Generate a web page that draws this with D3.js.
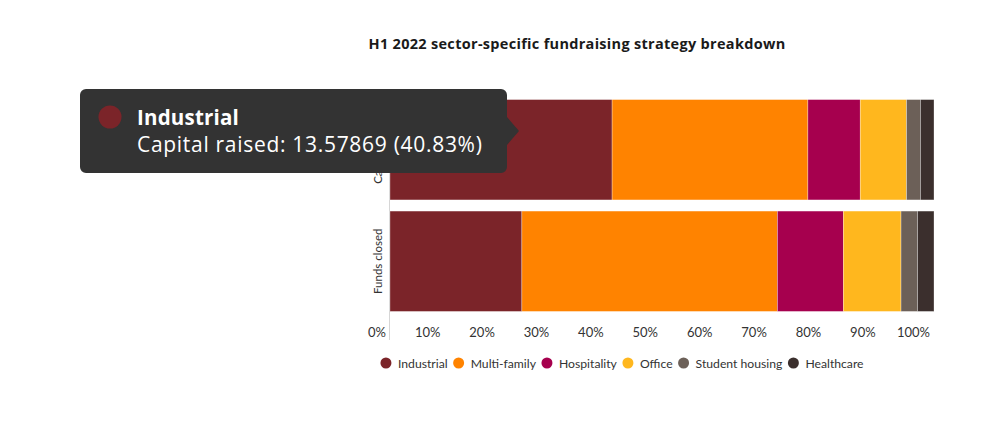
<!DOCTYPE html>
<html><head><meta charset="utf-8">
<script src="https://cdn.jsdelivr.net/npm/d3@7"></script>
<style>
html,body{margin:0;padding:0;background:#fff;}
svg{display:block;font-family:Lato, "Open Sans", sans-serif;}
</style></head>
<body>
<svg id="c" width="999" height="428"></svg>
<script>
const categories = ["Capital raised", "Funds closed"];
const sectors = ["Industrial", "Multi-family", "Hospitality", "Office", "Student housing", "Healthcare"];
const colors = ["#7b2429", "#ff8300", "#a6004e", "#ffb71e", "#6c6058", "#3b2f2d"];
const capitalRaised = [13.57869, 11.97, 3.20, 2.83, 0.85, 0.83];
const fundsClosed = [16, 31, 8, 7, 2, 2];
const xTicks = [0, 10, 20, 30, 40, 50, 60, 70, 80, 90, 100];
const title = "H1 2022 sector-specific fundraising strategy breakdown";

const seriesByCat = {"Capital raised": capitalRaised, "Funds closed": fundsClosed};
const svg = d3.select("#c");
const OS = "'Open Sans', Lato, sans-serif";

const x = d3.scaleLinear().domain([0, 100]).range([390, 934]);
const y = d3.scaleBand().domain(categories).range([94, 317]).paddingInner(0.1).paddingOuter(0.05);

const rows = categories.map(c => {
  const vals = seriesByCat[c];
  const tot = d3.sum(vals);
  const o = {cat: c};
  sectors.forEach((s, i) => o[s] = vals[i] / tot * 100);
  return o;
});
const stack = d3.stack().keys(sectors)(rows);

// title
svg.append("text").attr("x", 577).attr("y", 48.5).attr("text-anchor", "middle")
  .attr("font-family", OS).attr("font-size", 14.5).attr("letter-spacing", 0.3)
  .attr("font-weight", 700).attr("fill", "#1a1a1a").text(title);

// axis line
svg.append("line").attr("x1", 389.5).attr("x2", 389.5).attr("y1", 94).attr("y2", 340)
  .attr("stroke", "#d6d6d6").attr("stroke-width", 1);

// bars
const g = svg.append("g");
stack.forEach((layer, li) => {
  g.selectAll(null).data(layer).enter().append("rect")
    .attr("x", d => x(d[0]))
    .attr("width", d => x(d[1]) - x(d[0]))
    .attr("y", d => y(d.data.cat))
    .attr("height", y.bandwidth())
    .attr("fill", colors[li])
    .attr("stroke", "#fff").attr("stroke-opacity", 0.5).attr("stroke-width", 0.6);
});

// x axis
const xAxis = d3.axisBottom(x).tickValues(xTicks).tickFormat(d => d + "%").tickSize(0).tickPadding(0);
const ax = svg.append("g").attr("transform", "translate(0,325)").call(xAxis);
ax.select(".domain").remove();
ax.selectAll("text").attr("text-anchor", "end").attr("dx", -4.5).attr("dy", 0).attr("y", 12)
  .attr("font-size", 13).attr("font-family", "Lato, 'Open Sans', sans-serif").attr("fill", "#333");

// y axis labels
const yAxis = d3.axisLeft(y).tickSize(0).tickPadding(0);
const ay = svg.append("g").attr("transform", "translate(382,0)").call(yAxis);
ay.select(".domain").remove();
ay.selectAll(".tick text").attr("transform", "rotate(-90)").attr("x", 0).attr("dy", 0).attr("y", 0)
  .attr("text-anchor", "middle").attr("font-size", 11.5).attr("font-family", "Lato, 'Open Sans', sans-serif").attr("fill", "#333");

// legend
const lg = svg.append("g");
let lx = 0;
sectors.forEach((s, i) => {
  const it = lg.append("g");
  it.append("circle").attr("cx", 0).attr("cy", 0).attr("r", 5.5).attr("fill", colors[i]);
  const t = it.append("text").attr("x", 12).attr("y", 4.5).attr("font-size", 12.2).attr("fill", "#333").text(s);
  const w = t.node().getComputedTextLength();
  it.attr("transform", `translate(${lx},363)`);
  lx += 12 + w + 11;
});
const totalW = lx - 11 + 5.5;
lg.attr("transform", `translate(${622 - totalW / 2 + 5.5},0)`);

// tooltip
const tipCat = "Capital raised", tipIdx = 0;
const tipVal = seriesByCat[tipCat][tipIdx];
const tipPct = tipVal / d3.sum(seriesByCat[tipCat]) * 100;
const tip = svg.append("g");
const bx0 = 80, bx1 = 507, by0 = 89, by1 = 173, r = 6;
const path = d3.path();
path.moveTo(bx0 + r, by0);
path.lineTo(bx1 - r, by0);
path.arcTo(bx1, by0, bx1, by0 + r, r);
path.lineTo(bx1, 117);
path.lineTo(519, 131);
path.lineTo(bx1, 145);
path.lineTo(bx1, by1 - r);
path.arcTo(bx1, by1, bx1 - r, by1, r);
path.lineTo(bx0 + r, by1);
path.arcTo(bx0, by1, bx0, by1 - r, r);
path.lineTo(bx0, by0 + r);
path.arcTo(bx0, by0, bx0 + r, by0, r);
path.closePath();
tip.append("path").attr("d", path.toString()).attr("fill", "#333333");
tip.append("circle").attr("cx", 110).attr("cy", 117).attr("r", 11.5).attr("fill", colors[tipIdx]);
tip.append("text").attr("x", 137).attr("y", 124.5).attr("font-family", OS).attr("font-size", 20.5).attr("font-weight", 700)
  .attr("letter-spacing", 0.2).attr("fill", "#fff").text(sectors[tipIdx]);
tip.append("text").attr("x", 137).attr("y", 152).attr("font-family", OS).attr("font-size", 21).attr("letter-spacing", 0.7)
  .attr("fill", "#fff").text(`${tipCat}: ${tipVal} (${d3.format(".2f")(tipPct)}%)`);
</script>
</body></html>
